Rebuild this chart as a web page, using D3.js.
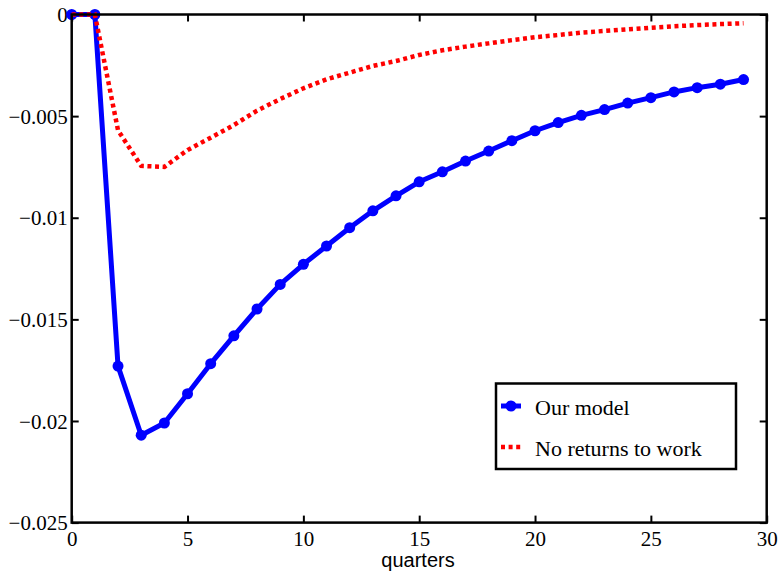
<!DOCTYPE html>
<html>
<head>
<meta charset="utf-8">
<script src="https://cdn.jsdelivr.net/npm/d3@7"></script>
<style>
  html, body { margin: 0; padding: 0; background: #fff; }
  svg { display: block; }
</style>
</head>
<body>
<svg id="chart" width="779" height="572"></svg>
<script>
const quarters = d3.range(0, 30);
const ourModel = [0, 0, -0.0173, -0.0207, -0.0201, -0.01866, -0.01718, -0.01581, -0.01449, -0.01328,
  -0.01229, -0.01139, -0.01049, -0.00966, -0.00892, -0.00823, -0.00774, -0.00721, -0.00672, -0.00621,
  -0.00572, -0.00532, -0.00496, -0.00468, -0.00436, -0.00409, -0.00381, -0.00360, -0.00343, -0.00320];
const noReturns = [0, 0, -0.0057, -0.00745, -0.0075, -0.00667, -0.00606, -0.00544, -0.00473, -0.00416,
  -0.00363, -0.00319, -0.00286, -0.00253, -0.00229, -0.00199, -0.00176, -0.00158, -0.00142, -0.00126,
  -0.00112, -0.00101, -0.00089, -0.00081, -0.00073, -0.00065, -0.00058, -0.00052, -0.00047, -0.00043];
const xTicks = [0, 5, 10, 15, 20, 25, 30];
const xTickLabels = ["0", "5", "10", "15", "20", "25", "30"];
const yTicks = [0, -0.005, -0.01, -0.015, -0.02, -0.025];
const yTickLabels = ["0", "\u22120.005", "\u22120.01", "\u22120.015", "\u22120.02", "\u22120.025"];
const seriesNames = ["Our model", "No returns to work"];
const xLabel = "quarters";

const L = 71.7, R = 766.7, T = 14.5, B = 522.6;
const svg = d3.select("#chart");
const x = d3.scaleLinear().domain([0, 30]).range([L, R]);
const y = d3.scaleLinear().domain([-0.025, 0]).range([B, T]);

const serif = "'Liberation Serif', 'Times New Roman', serif";
const tickLen = 7;

// axes
const gx = svg.append("g").attr("transform", `translate(0,${B})`)
  .call(d3.axisBottom(x).tickValues(xTicks).tickFormat((d, i) => xTickLabels[i])
    .tickSizeInner(-tickLen).tickSizeOuter(0).tickPadding(8));
const gxt = svg.append("g").attr("transform", `translate(0,${T})`)
  .call(d3.axisTop(x).tickValues(xTicks).tickFormat("").tickSizeInner(-tickLen).tickSizeOuter(0));
const gy = svg.append("g").attr("transform", `translate(${L},0)`)
  .call(d3.axisLeft(y).tickValues(yTicks).tickFormat((d, i) => yTickLabels[i])
    .tickSizeInner(-tickLen).tickSizeOuter(0).tickPadding(4));
const gyr = svg.append("g").attr("transform", `translate(${R},0)`)
  .call(d3.axisRight(y).tickValues(yTicks).tickFormat("").tickSizeInner(-tickLen).tickSizeOuter(0));

[gx, gxt, gy, gyr].forEach(g => {
  g.select(".domain").remove();
  g.selectAll(".tick line").attr("stroke", "#000").attr("stroke-width", 2);
  g.selectAll(".tick text").attr("fill", "#000").style("font-family", serif).style("font-size", "21px");
});
gx.selectAll(".tick text").attr("dy", "0.71em");
gy.selectAll(".tick text").attr("dy", "0.34em");

// series
const lineGen = d3.line().x((d, i) => x(quarters[i])).y(d => y(d));
svg.append("path").datum(ourModel).attr("d", lineGen)
  .attr("fill", "none").attr("stroke", "#0000ff").attr("stroke-width", 5).attr("stroke-linejoin", "round");
svg.append("g").selectAll("circle").data(ourModel).join("circle")
  .attr("cx", (d, i) => x(quarters[i])).attr("cy", d => y(d)).attr("r", 5.5).attr("fill", "#0000ff");

svg.append("path").datum(noReturns).attr("d", lineGen)
  .attr("fill", "none").attr("stroke", "#ff0000").attr("stroke-width", 4.5)
  .attr("stroke-dasharray", "4,3.6");

// box
svg.append("rect").attr("x", L).attr("y", T).attr("width", R - L).attr("height", B - T)
  .attr("fill", "none").attr("stroke", "#000").attr("stroke-width", 2.5);

// x label
svg.append("text").attr("x", 418).attr("y", 567).attr("text-anchor", "middle")
  .style("font-family", "'Liberation Sans', Arial, sans-serif").style("font-size", "20px")
  .attr("fill", "#000").text(xLabel);

// legend
const lg = svg.append("g");
lg.append("rect").attr("x", 496).attr("y", 383.5).attr("width", 240).attr("height", 85.5)
  .attr("fill", "#fff").attr("stroke", "#000").attr("stroke-width", 2.5);
lg.append("line").attr("x1", 501).attr("x2", 521).attr("y1", 406).attr("y2", 406)
  .attr("stroke", "#0000ff").attr("stroke-width", 5);
lg.append("circle").attr("cx", 511).attr("cy", 406).attr("r", 5.5).attr("fill", "#0000ff");
lg.append("line").attr("x1", 501).attr("x2", 521).attr("y1", 447).attr("y2", 447)
  .attr("stroke", "#ff0000").attr("stroke-width", 4.5).attr("stroke-dasharray", "4,3.6");
lg.selectAll("text.lab").data(seriesNames).join("text").attr("class", "lab")
  .attr("x", 535).attr("y", (d, i) => i === 0 ? 414.5 : 455.5)
  .style("font-family", serif).style("font-size", "22px").attr("fill", "#000").text(d => d);
</script>
</body>
</html>
